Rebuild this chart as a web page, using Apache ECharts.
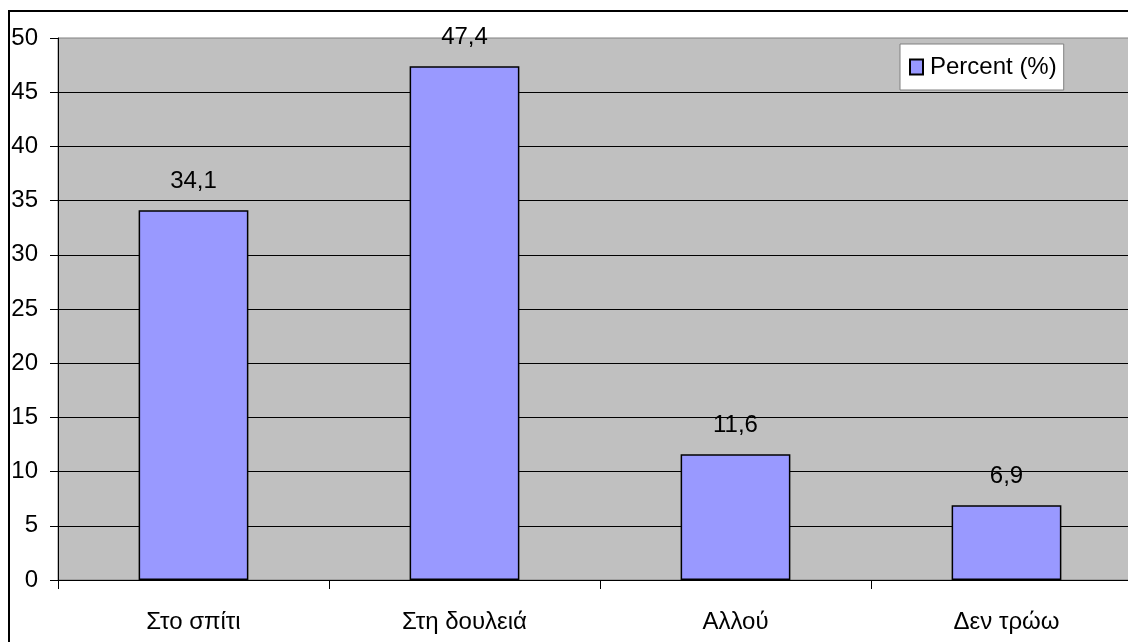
<!DOCTYPE html>
<html>
<head>
<meta charset="utf-8">
<style>
  html, body { margin: 0; padding: 0; background: #fff; overflow: hidden; }
  /* the plot runs past the right edge of the window, so the canvas is wider than the view */
  #chart { width: 1170px; height: 680px; }
</style>
<script src="https://cdn.jsdelivr.net/npm/echarts@6/dist/echarts.min.js"></script>
</head>
<body>
<div id="chart"></div>
<script>
// Where people eat lunch — share of respondents
const categories = ['Στο σπίτι', 'Στη δουλειά', 'Αλλού', 'Δεν τρώω'];
const percentValues = [34.1, 47.4, 11.6, 6.9];
const seriesName = 'Percent (%)';

const FONT = 'Liberation Sans, Arial, sans-serif';
const FONT_SIZE = 24;

const chart = echarts.init(document.getElementById('chart'), null, { renderer: 'canvas' });

chart.setOption({
  animation: false,
  backgroundColor: '#ffffff',
  graphic: [{
    type: 'rect',
    z: 100,
    shape: { x: 9, y: 11, width: 1200, height: 700 },
    style: { fill: 'none', stroke: '#000', lineWidth: 2 },
    silent: true
  }],
  grid: {
    left: 58,
    top: 38,
    width: 1084,
    height: 542,
    show: true,
    backgroundColor: '#C0C0C0',
    borderColor: '#808080',
    borderWidth: 1
  },
  legend: {
    left: 900,
    top: 44,
    orient: 'vertical',
    backgroundColor: '#ffffff',
    borderColor: '#808080',
    borderWidth: 1,
    padding: [11, 7, 11, 9],
    itemWidth: 13,
    itemHeight: 15,
    itemGap: 0,
    textStyle: { fontFamily: FONT, fontSize: FONT_SIZE, color: '#000', padding: [0, 0, 0, 2] },
    data: [{ name: seriesName, icon: 'rect' }]
  },
  xAxis: {
    type: 'category',
    data: categories,
    boundaryGap: true,
    axisLine: { show: true, lineStyle: { color: '#000', width: 1 } },
    axisTick: { show: true, length: 9, lineStyle: { color: '#000' } },
    axisLabel: { fontFamily: FONT, fontSize: FONT_SIZE, color: '#000', margin: 30 },
    splitLine: { show: false }
  },
  yAxis: {
    type: 'value',
    min: 0,
    max: 50,
    interval: 5,
    axisLine: { show: true, lineStyle: { color: '#000', width: 1 } },
    axisTick: { show: true, length: 8, lineStyle: { color: '#000' } },
    axisLabel: { fontFamily: FONT, fontSize: FONT_SIZE, color: '#000', margin: 20 },
    splitLine: { show: true, showMaxLine: false, lineStyle: { color: '#000', width: 1 } }
  },
  series: [{
    name: seriesName,
    type: 'bar',
    data: percentValues,
    barWidth: '40.5%',
    itemStyle: { color: '#9999FF', borderColor: '#000', borderWidth: 1.5 },
    label: {
      show: true,
      position: 'top',
      distance: 17,
      fontFamily: FONT,
      fontSize: FONT_SIZE,
      color: '#000',
      formatter: p => String(p.value).replace('.', ',')
    }
  }]
});
</script>
</body>
</html>
